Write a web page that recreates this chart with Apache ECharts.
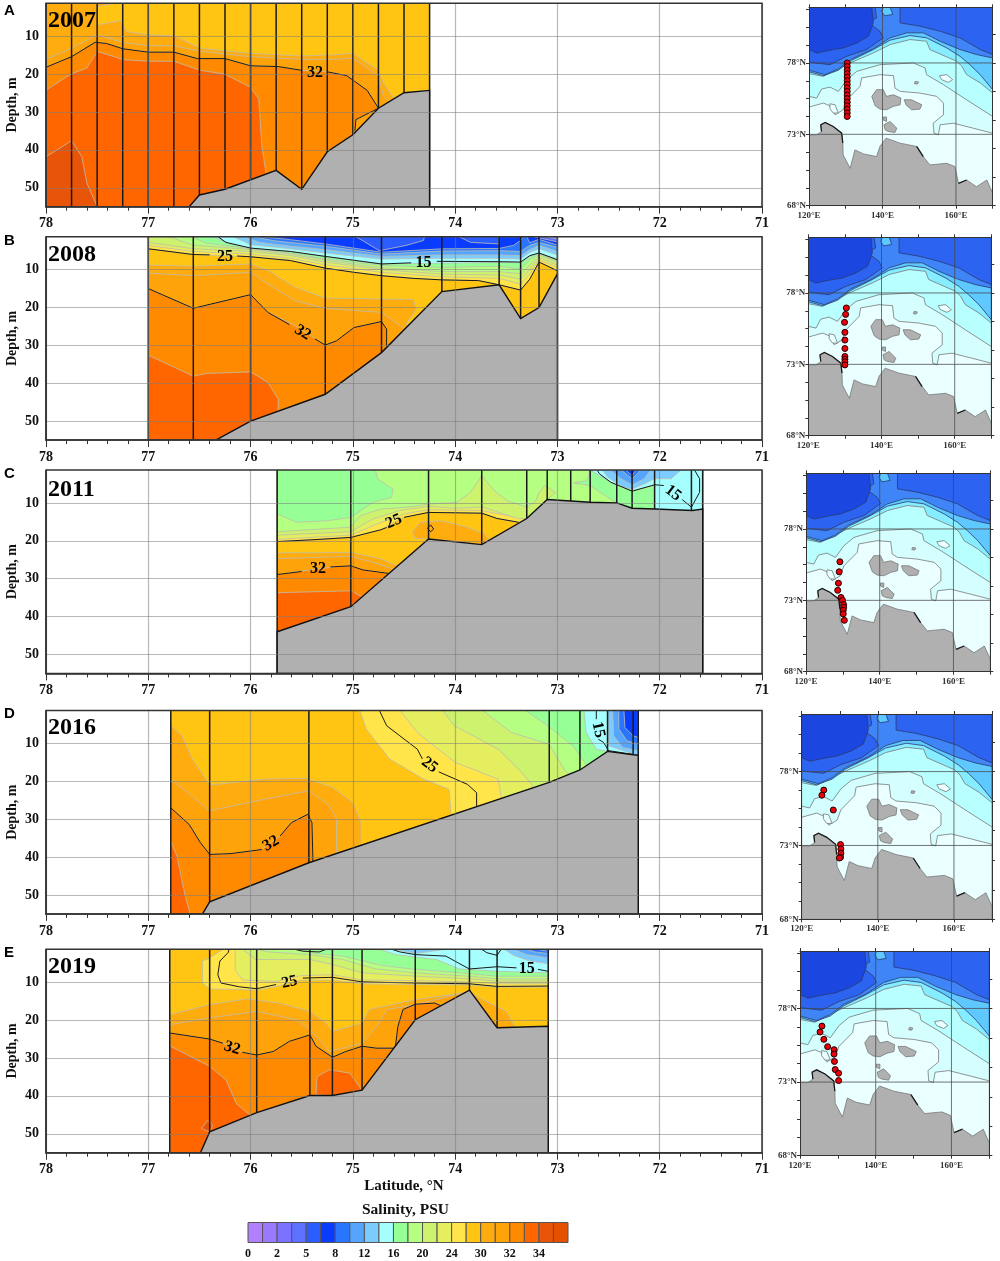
<!DOCTYPE html>
<html>
<head>
<meta charset="utf-8">
<title>Salinity sections</title>
<style>
  html,body{margin:0;padding:0;background:#fff;}
  #main{width:1000px;height:1261px;}
</style>
</head>
<body>
<div id="main"></div>
<script src="https://cdn.jsdelivr.net/npm/echarts@6/dist/echarts.min.js"></script>
<script>
// salinity classes of the colour bar, low to high
var palette = ['#b080ff','#9a78ff','#7b72ff','#5e70ff','#2a5cff','#0a3cff','#2a75ff','#55a5ff','#7ccbff','#a5ffff','#96ff96','#b5ff82','#cdf26e','#e5ee5f','#ffe54a','#ffc512','#ffac0f','#ffa30a','#ff8a00','#ff6600','#e85508','#e55000'];
var legendLabels = ['0','2','5','8','12','16','20','24','30','32','34'];
var depthTicks = [10,20,30,40,50];

// 2007
var stations2007 = [78,77.75,77.5,77.25,77,76.75,76.5,76.25,76,75.75,75.5,75.25,75,74.75,74.5,74.25];
var bottom2007 = [[76.6,55],[76.5,51.9],[76.25,50.4],[75.75,45.4],[75.5,50.4],[75.25,40.5],[75,36],[74.75,29],[74.5,24.9],[74.25,24.3]];
var bands2007 = [
  [18,[[78,1.3],[74.25,1.3],[74.25,55],[78,55]]],
  [19,[[78,24.2],[77.75,19.9],[77.6,18.4],[77.5,14],[77.24,16.2],[76.98,16.6],[76.75,16.6],[76.49,19],[76.25,20],[76,23.5],[75.92,26.6],[75.89,38.9],[75.85,46],[75.8,55],[78,55]]],
  [20,[[78,41.8],[77.75,37.6],[77.65,41.8],[77.6,48.8],[77.5,54.9],[78,55]]],
  [17,[[78,18.2],[77.75,15.4],[77.52,11.6],[77.41,11.9],[77.25,13.3],[77,14.2],[76.75,14.2],[76.52,15.9],[76.25,15.9],[76,17.8],[75.73,18],[75.5,19],[75.25,19.4],[75.06,20.4],[74.86,24.3],[74.75,29],[74.97,32],[74.98,35],[74.9,40],[74.25,40],[74.25,1.3],[78,1.3]]],
  [16,[[78,16.1],[77.75,13.2],[77.5,9.6],[77.24,11.7],[76.98,12.5],[76.75,12.5],[76.49,14],[76,15.4],[75.51,16.1],[75.19,16.1],[75,15.8],[74.86,18.4],[74.75,20.6],[74.7,25.9],[74.65,27.2],[74.25,27],[74.25,1.3],[78,1.3]]],
  [15,[[77.34,1.3],[77.5,2.2],[77.5,7],[77.27,5.9],[77.21,8.8],[77.01,9.6],[76.75,9.9],[76.49,13.2],[76,14.5],[75.51,15.2],[75.19,14.9],[75,14.5],[74.86,17.1],[74.75,18.9],[74.7,22.4],[74.6,26.4],[74.5,24.9],[74.25,24.3],[74.25,1.3]]]
];
var contours2007 = [
  [[78,18.2],[77.75,15.4],[77.52,11.6],[77.41,11.9],[77.25,13.3],[77,14.2],[76.75,14.2],[76.52,15.9],[76.25,15.9],[76,17.8],[75.73,18],[75.5,19]],
  [[75.25,19.4],[75.06,20.4],[74.86,24.3],[74.75,29],[74.97,32],[74.98,35]]
];
var labels2007 = [['32',75.37,19.6,0]];

// 2008
var stations2008 = [77,76.56,76,75.27,74.72,74.13,73.57,73.36,73.18,73];
var bottom2008 = [[76.34,55],[76,50],[75.27,42.9],[74.72,31.9],[74.13,15.8],[73.57,14],[73.36,22.9],[73.18,20],[73,11.1]];
var bands2008 = [
  [18,[[77,1.3],[73,1.3],[73,55],[77,55]]],
  [19,[[77,32.6],[76.56,38.1],[76.43,37.4],[76,37],[75.83,39.8],[75.73,44.2],[75.73,55],[77,55]]],
  [17,[[77,15],[76.56,20.2],[76,16.6],[75.83,21.3],[75.57,24.8],[75.27,29.9],[75.16,28.8],[74.99,25.3],[74.72,23.7],[74.67,25.7],[74.67,31],[73,40],[73,1.3],[77,1.3]]],
  [16,[[77,10.9],[76.56,11.6],[76,10.7],[75.83,13.8],[75.57,18.2],[75.27,20.2],[74.72,21.3],[74.51,25.3],[74.3,30],[73,30],[73,1.3],[77,1.3]]],
  [15,[[77,8.8],[76.56,9.1],[76,8.5],[75.83,10.2],[75.57,14.6],[75.27,17.5],[74.41,17.9],[74.38,20.4],[74.48,24.4],[74.3,30],[73,30],[73,1.3],[77,1.3]]],
  [14,[[77,4.5],[76.56,6],[76,6.6],[75.61,7.6],[75.27,9.6],[74.99,10.7],[74.72,11.6],[74.41,12.3],[74.13,12.7],[73.77,12.9],[73.57,14],[73.36,15.4],[73.27,12.5],[73.18,8],[73,10.3],[73,1.3],[77,1.3]]],
  [13,[[77,3.6],[76.56,5.2],[76,5.9],[75.61,7],[75.27,8.7],[74.72,10.7],[74.13,11.9],[73.57,12.3],[73.36,13.8],[73.27,11.1],[73.18,7.4],[73,9.4],[73,1.3],[77,1.3]]],
  [12,[[77,2.8],[76.56,4.5],[76,5.2],[75.61,6.3],[75.27,8],[74.72,10],[74.13,11.2],[73.57,11.4],[73.36,12.5],[73.27,10],[73.18,6.8],[73,8.8],[73,1.3],[77,1.3]]],
  [11,[[76.8,1.3],[76.56,3.5],[76,4.7],[75.61,5.9],[75.27,7.5],[74.72,9.5],[74.13,10.5],[73.57,10.5],[73.36,11.1],[73.27,8.8],[73.18,6.1],[73,8.1],[73,1.3]]],
  [10,[[76.58,1.3],[76.43,3],[76,4.5],[75.61,5.6],[75.27,7.2],[74.72,8.9],[74.13,9.4],[73.57,9.1],[73.36,9.8],[73.27,7.4],[73.18,5.9],[73,7.7],[73,1.3]]],
  [9,[[76.37,1.3],[76.24,2.9],[76,4.4],[75.61,5.2],[75.27,6.6],[74.72,8.5],[74.13,8.3],[73.57,8.1],[73.36,8.2],[73.27,6.6],[73.18,5.6],[73,7.2],[73,1.3]]],
  [8,[[76.17,1.3],[76,3.4],[75.61,4.5],[75.27,5.6],[74.72,7.2],[74.13,7],[73.57,7],[73.36,7.2],[73.27,5.4],[73.18,4.5],[73,6.1],[73,1.3]]],
  [7,[[76.06,1.3],[75.91,2.8],[75.61,3.8],[75.27,4.7],[74.72,6.5],[74.13,6.1],[73.57,6.1],[73.36,6.3],[73.27,4.7],[73.18,3.6],[73,5.2],[73,1.3]]],
  [6,[[75.98,1.3],[75.76,2.4],[75.27,3.8],[74.72,5.9],[74.13,5.1],[73.57,5],[73.36,5.2],[73.27,3.6],[73.18,2.8],[73,4.1],[73,1.3]]],
  [5,[[75.87,1.3],[75.61,2.1],[75.27,3.2],[74.72,5.4],[74.13,4.5],[73.57,4.4],[73.43,3.6],[73.36,2.3],[73.33,1.3]]],
  [4,[[74.97,1.3],[74.74,5],[74.48,3.6],[74.31,2.3],[74.3,1.3]]],
  [4,[[73.96,1.3],[73.85,2.8],[73.57,3.2],[73.57,1.3]]],
  [5,[[73.3,1.3],[73.27,2.9],[73.18,2],[73,3.5],[73,1.3]]],
  [3,[[73.23,1.3],[73.18,1.6],[73,2.7],[73,1.3]]],
  [2,[[73.12,1.3],[73,1.9],[73,1.3]]]
];
var contours2008 = [
  [[77,15],[76.56,20.2],[76,16.6],[75.83,21.3],[75.62,24.5]],
  [[75.37,28.3],[75.27,29.9],[75.16,28.8],[74.99,25.3],[74.72,23.7],[74.67,25.7],[74.67,30.1]],
  [[77,4.5],[76.56,6],[76.4,6.1]],
  [[76.13,6.4],[76,6.6],[75.61,7.6],[75.27,9.6],[74.99,10.7],[74.72,11.6],[74.41,12.3],[74.13,12.7],[73.77,12.9],[73.57,14],[73.36,15.4],[73.27,12.5],[73.18,8],[73,10.3]],
  [[76.32,1.3],[76.24,2.8],[76,4.3],[75.61,5.2],[75.27,6.5],[74.72,8.5],[74.43,8.2]],
  [[74.18,7.8],[73.57,7.9],[73.36,8],[73.27,6.3],[73.18,5.6],[73,7.4]]
];
var labels2008 = [['25',76.25,6.5,0],['15',74.31,8.1,0],['32',75.49,26.6,-0.55]];

// 2011
var stations2011 = [75.74,75.02,74.26,73.74,73.3,73.1,72.87,72.68,72.42,72.27,72.05,71.69,71.58];
var bottom2011 = [[75.74,44],[75.02,37.4],[74.26,19.5],[73.74,21],[73.3,14.1],[73.1,9.1],[72.87,9.5],[72.68,9.8],[72.42,10],[72.27,11.4],[72.05,11.6],[71.68,12],[71.58,11.6]];
var bands2011 = [
  [19,[[75.74,1.3],[71.58,1.3],[71.58,55],[75.74,55]]],
  [18,[[75.74,33.7],[75.02,33.2],[74.93,34.5],[74.5,40],[71.58,40],[71.58,1.3],[75.74,1.3]]],
  [17,[[75.74,28.9],[75.42,27.7],[75.16,26.8],[75.02,26.6],[74.9,27.7],[74.65,28.6],[74.3,35],[71.58,35],[71.58,1.3],[75.74,1.3]]],
  [16,[[75.74,24.7],[75.02,24.1],[74.8,25.7],[74.6,27.5],[74.3,35],[71.58,35],[71.58,1.3],[75.74,1.3]]],
  [15,[[75.74,23.2],[75.02,23.1],[74.73,24.7],[74.57,26.6],[74.3,35],[71.58,35],[71.58,1.3],[75.74,1.3]]],
  [16,[[74.42,17.8],[74.34,15.1],[74.14,14.7],[73.88,16.4],[73.72,18.2],[73.67,19.5],[73.74,21],[73.98,20.2],[74.26,19.5],[74.39,19.4]]],
  [14,[[75.74,20.2],[75.38,19.7],[75.02,19.1],[74.73,17.1],[74.5,13.8],[74.26,12.5],[73.74,12.7],[73.59,14.1],[73.38,15.1],[73.3,14.1],[71.58,14],[71.58,1.3],[75.74,1.3]]],
  [13,[[75.74,19.6],[75.02,18.5],[74.77,15.6],[74.5,12.9],[74.26,11.8],[73.74,12],[73.32,14.2],[71.58,14],[71.58,1.3],[75.74,1.3]]],
  [12,[[75.74,18.5],[75.02,17.6],[74.8,14.2],[74.54,12],[74.26,10.9],[74,11.4],[73.73,11.1],[73.38,14.2],[73.3,14.1],[71.58,14],[71.58,1.3],[75.74,1.3]]],
  [11,[[75.74,17.6],[75.02,16.4],[74.93,13.4],[74.73,11.6],[74.47,11.1],[74.26,10.3],[73.98,9.8],[73.85,7.2],[73.74,2.8],[73.62,6.7],[73.49,9.4],[73.3,11.1],[73.21,9.4],[73.18,7.2],[73.12,5.4],[73.02,7.2],[73.1,9.1],[72.68,10.3],[71.58,14],[71.58,1.3],[75.74,1.3]]],
  [10,[[75.74,12.9],[75.55,15.1],[75.25,14.7],[75.02,13.8],[74.8,9.8],[74.62,8.5],[74.61,6.3],[74.76,3.6],[74.78,1.3],[75.74,1.3]]],
  [10,[[72.68,1.3],[72.71,4.1],[72.84,4.7],[72.68,5.4],[72.51,8.5],[72.42,10],[72.27,11.6],[72.05,11.6],[72.05,1.3]]],
  [9,[[72.68,1.3],[72.59,2.8],[72.45,5],[72.27,6.7],[72.05,5.4],[72.05,11.6],[71.86,12.5],[71.58,13],[71.58,1.3]]],
  [8,[[72.56,1.3],[72.51,3.2],[72.35,5.9],[72.27,6.3],[72.15,5],[72.05,3.6],[71.89,3.6],[71.79,1.3]]],
  [7,[[72.48,1.3],[72.38,3.6],[72.27,5.2],[72.15,3.6],[72.09,1.3]]],
  [6,[[72.38,1.3],[72.33,2.3],[72.27,3.6],[72.22,2.3],[72.19,1.3]]],
  [5,[[72.33,1.3],[72.27,2.8],[72.23,1.3]]]
];
var contours2011 = [
  [[75.74,20.2],[75.38,19.7],[75.02,19.1],[74.73,17.1],[74.67,16.5]],
  [[74.5,13.8],[74.26,12.5],[73.74,12.7],[73.59,14.1],[73.38,15.1]],
  [[75.74,28.9],[75.5,28.1]],
  [[75.22,26.9],[75.02,26.6],[74.9,27.7],[74.65,28.6]],
  [[74.27,16.7],[74.24,15.8],[74.21,16.9],[74.24,17.6],[74.27,16.7]],
  [[72.61,1.4],[72.59,2.3],[72.48,4.5],[72.27,6.9],[72.05,5.2],[71.96,5.4]],
  [[71.78,9.1],[71.69,11.1],[71.61,7.2],[71.61,3.6],[71.66,1.3]]
];
var labels2011 = [['25',74.6,14.9,0.4],['32',75.34,27.5,0],['15',71.87,7.4,-0.65]];

// 2016
var stations2016 = [76.78,76.4,75.43,73.08,72.78,72.51,72.26,72.21];
var bottom2016 = [[76.47,55],[76.4,51.8],[75.43,41.5],[73.08,20.3],[72.78,17],[72.51,12.1],[72.26,13],[72.21,13.1]];
var bands2016 = [
  [18,[[76.78,1.3],[72.21,1.3],[72.21,55],[76.78,55]]],
  [19,[[76.78,35.8],[76.72,39.8],[76.64,50.3],[76.59,55],[76.78,55]]],
  [17,[[76.78,27],[76.6,31.4],[76.49,36.2],[76.4,39.3],[76.2,39.1],[75.89,38],[75.71,34.4],[75.6,30.9],[75.44,28.7],[75.4,30.9],[75.39,41.1],[75.3,50],[72.21,50],[72.21,1.3],[76.78,1.3]]],
  [16,[[76.78,19.4],[76.4,27.8],[75.86,24.7],[75.43,22.5],[75.23,26.5],[75.16,30],[75.16,38.9],[75,50],[72.21,50],[72.21,1.3],[76.78,1.3]]],
  [15,[[76.78,5.3],[76.67,8],[76.57,14.1],[76.4,21],[75.86,19.4],[75.46,19.2],[75.2,21.6],[75,25.6],[74.92,30.9],[74.92,36.7],[74.7,50],[72.21,50],[72.21,1.3],[76.78,1.3]]],
  [14,[[74.93,1.3],[74.87,6.2],[74.64,14.1],[74.31,19.4],[74.06,22.1],[74.04,28.3],[74,32],[72.21,32],[72.21,1.3]]],
  [13,[[74.54,1.3],[74.37,7.1],[74,15],[73.58,19.4],[73.55,23.9],[73.5,32],[72.21,32],[72.21,1.3]]],
  [12,[[74.12,1.3],[74.01,5.3],[73.58,11.5],[73.38,16.8],[73.25,20.8],[73.2,32],[72.21,32],[72.21,1.3]]],
  [11,[[73.73,1.3],[73.45,7.1],[73.08,10.2],[72.92,17.4],[72.88,18.1],[72.8,32],[72.21,32],[72.21,1.3]]],
  [10,[[73.31,1.3],[73.08,5.6],[72.85,10.6],[72.72,15.5],[72.6,32],[72.21,32],[72.21,1.3]]],
  [9,[[72.74,1.3],[72.72,7.1],[72.62,11.5],[72.51,12.1],[72.21,14],[72.21,1.3]]],
  [8,[[72.51,1.3],[72.5,10.6],[72.26,12.8],[72.21,13.1],[72.21,1.3]]],
  [7,[[72.46,1.3],[72.45,8],[72.36,11.1],[72.21,11.9],[72.21,1.3]]],
  [6,[[72.4,1.3],[72.4,6.2],[72.32,9.3],[72.21,10.2],[72.21,1.3]]],
  [5,[[72.35,1.3],[72.34,5.8],[72.26,8],[72.21,8.4],[72.21,1.3]]]
];
var contours2016 = [
  [[76.78,27],[76.6,31.4],[76.49,36.2],[76.4,39.3],[76.2,39.1],[75.89,38]],
  [[75.71,34.4],[75.6,30.9],[75.44,28.7],[75.4,30.9],[75.39,41.1]],
  [[74.74,1.3],[74.67,5.3],[74.54,8],[74.37,11.5],[74.32,14.1]],
  [[74.16,17.5],[73.88,20.8],[73.79,23],[73.79,26.7]],
  [[72.62,1.3],[72.62,3.6]],
  [[72.6,8.9],[72.55,9.7],[72.5,11.9],[72.26,12.9]]
];
var labels2016 = [['32',75.8,36.4,0.55],['25',74.25,15.7,-0.65],['15',72.6,6.4,-1.35]];

// 2019
var stations2019 = [76.79,76.4,75.94,75.42,75.2,74.91,74.39,73.86,73.59,73.09];
var bottom2019 = [[76.49,55],[76.4,49.5],[75.94,44.4],[75.42,39.9],[75.2,39.9],[74.91,38.5],[74.39,19.9],[73.86,12.1],[73.59,22],[73.09,21.6]];
var bands2019 = [
  [18,[[76.79,1.3],[73.09,1.3],[73.09,55],[76.79,55]]],
  [19,[[76.79,26.8],[76.4,32.2],[76.24,35.8],[76.14,42],[76.01,45],[76.01,55],[76.79,55]]],
  [20,[[76.48,48.6],[76.42,46.5],[76.37,47.7],[76.4,49.5]]],
  [19,[[75.36,39.7],[75.35,34.9],[75.23,33.1],[75.03,34],[74.91,38.5],[75.2,39.9]]],
  [17,[[76.79,23.4],[76.4,25],[76.27,26.1],[76.08,28.5],[75.94,29.2],[75.78,28.3],[75.62,25.6],[75.42,23.9],[75.36,26.9],[75.2,29.8],[75.07,28.3],[74.91,26.9],[74.77,27.4],[74.59,27.4],[74.58,26.1],[74.56,21.7],[74.51,17.2],[74.39,15.8],[74.2,15.5],[74.14,16.2],[74,20],[73.09,30],[73.09,1.3],[76.79,1.3]]],
  [16,[[76.79,21.2],[76.4,19.4],[75.94,17.7],[75.55,19.9],[75.42,22.5],[75.23,28.3],[74.91,26.1],[74.74,20.8],[74.67,17.2],[74.39,15.9],[73.92,12.8],[73.7,30],[73.09,30],[73.09,1.3],[76.79,1.3]]],
  [15,[[76.79,18.6],[76.4,15.9],[76.04,14.4],[75.72,15.5],[75.42,17.7],[75.26,20.8],[75.2,23],[74.91,20.8],[74.84,17.2],[74.39,14.6],[73.86,12.6],[73.73,14.6],[73.5,17.7],[73.42,21.5],[73.4,30],[73.09,30],[73.09,1.3],[76.79,1.3]]],
  [14,[[76.27,1.3],[76.4,3.6],[76.47,4.4],[76.47,10.2],[76.4,11.8],[76.11,11.9],[75.94,12.1],[75.75,11.1],[75.52,9.5],[75.2,9.4],[74.91,10.4],[74.39,10.6],[73.86,10.7],[73.59,11.3],[73.09,11.3],[73.09,1.3]]],
  [13,[[76.15,1.3],[76.15,6.8],[76.08,9.4],[75.75,9.8],[75.52,8.3],[75.2,8],[74.91,9.4],[74.39,9.6],[73.86,9.9],[73.59,10.4],[73.09,10.4],[73.09,1.3]]],
  [12,[[76.08,1.3],[75.95,4],[75.42,4],[75.2,5.3],[74.91,7.5],[74.39,8.4],[73.86,9.1],[73.59,9.7],[73.09,9.7],[73.09,1.3]]],
  [11,[[75.95,1.3],[75.82,2],[75.42,2.7],[75.1,4],[74.77,6.5],[74.39,7.5],[73.86,8.4],[73.59,9.1],[73.09,9.1],[73.09,1.3]]],
  [10,[[75.57,1.3],[75.36,2.4],[75.1,3.1],[74.71,5.6],[74.39,6.6],[73.86,7.7],[73.59,8.4],[73.09,8.4],[73.09,1.3]]],
  [9,[[74.74,1.3],[74.58,2.7],[74.18,4],[73.96,6.5],[73.59,7.1],[73.09,7.5],[73.09,1.3]]],
  [8,[[74.61,1.3],[74.38,2.4],[74.09,1.3]]],
  [8,[[73.52,1.3],[73.43,2.9],[73.27,4.4],[73.09,5.1],[73.09,1.3]]],
  [7,[[73.43,1.3],[73.3,2.7],[73.09,3.6],[73.09,1.3]]],
  [6,[[73.3,1.3],[73.22,2],[73.09,2.4],[73.09,1.3]]],
  [5,[[73.19,1.3],[73.14,1.6],[73.09,1.8],[73.09,1.3]]]
];
var contours2019 = [
  [[76.79,23.4],[76.4,25],[76.27,26.1]],
  [[76.08,28.5],[75.94,29.2],[75.78,28.3],[75.62,25.6],[75.42,23.9],[75.36,26.9],[75.2,29.8],[75.07,28.3],[74.91,26.9],[74.77,27.4],[74.59,27.4],[74.58,26.1],[74.56,21.7],[74.51,17.2],[74.39,15.8],[74.2,15.5],[74.14,16.2]],
  [[76.21,1.3],[76.22,2.2],[76.3,4.4],[76.32,8],[76.29,10.2],[76.11,11.2],[75.94,11.7],[75.75,10.6]],
  [[75.49,8.9],[75.2,8.7],[74.91,9.9],[74.39,10.2],[73.86,10.4],[73.59,11.1],[73.09,11]],
  [[74.62,1.3],[74.54,2],[74.39,2.7],[74.09,3.1],[73.97,4.9],[73.86,6.5],[73.59,5.9],[73.4,6.2]],
  [[73.19,6.6],[73.09,7.1]],
  [[73.74,1.3],[73.69,2.2],[73.59,2.9],[73.55,1.3]],
  [[75.57,1.3],[75.49,1.8],[75.33,2],[75.26,1.3]]
];
var labels2019 = [['32',76.18,27.4,-0.3],['25',75.62,10,0.2],['15',73.3,6.4,0]];

// map, lon/lat, drawn from the open sea to the coast
var mapPalette = ['#eaffff','#d5ffff','#b8ffff','#86ecff','#5ec8ff','#3f85f8','#2c63f0','#1c46e0','#b0b0b0'];
var mapLayers = [
  [0,[[120,68],[170,68],[170,81.9],[120,81.9]]],
  [1,[[120,74.91],[123.9,75.19],[125.7,75],[127.1,74.37],[129.3,74.72],[130.3,75.42],[133.9,76.36],[134.3,76.95],[139.3,77.18],[143,77.11],[143.4,76.24],[144.8,76.01],[150.2,75.89],[154.8,75.66],[156.6,75.19],[156.6,74.37],[153.8,73.78],[154,73.08],[155.2,72.96],[155.7,73.67],[159.3,73.78],[164.7,73.43],[170,73.08],[170,81.9],[120,81.9]]],
  [2,[[120,75.66],[122.1,75.54],[123.4,76.17],[125.7,76.31],[128,76.01],[130.3,76.83],[133,77.41],[139.3,77.88],[148.4,78],[151.6,77.65],[152,77.18],[156.6,76.48],[162.9,75.42],[170,74.25],[170,81.9],[120,81.9]]],
  [3,[[120,77.25],[123.9,77.06],[128.4,77.65],[131.2,78],[137.5,78.7],[142.1,79.29],[147.5,79.64],[152,79.52],[152.9,78.94],[160.2,78.12],[161.6,77.77],[162.9,77.18],[166.6,76.6],[170,75.89],[170,81.9],[120,81.9]]],
  [4,[[120,77.39],[123.9,77.11],[128,77.49],[131.6,78.19],[137.5,78.94],[142.1,79.6],[147.5,79.92],[152,79.76],[157.5,79.05],[161.1,78.47],[163.8,77.88],[166.6,77.18],[170,76.13],[170,81.9],[120,81.9]]],
  [5,[[120,77.49],[124.4,77.18],[128,77.58],[131.6,78.28],[137.5,78.99],[142.1,79.76],[146.6,80.11],[151.1,80.11],[155.7,79.52],[161.1,78.94],[165.6,78.59],[170,78.35],[170,81.9],[120,81.9]]],
  [6,[[120,78.05],[125.7,77.88],[130.3,78.47],[135.7,78.94],[140.2,79.76],[139.3,80.22],[136.2,80.81],[138.4,81.16],[138,81.9],[120,81.9]]],
  [6,[[144.8,81.9],[144.8,80.81],[150.2,80.58],[155.7,80.22],[161.1,79.76],[166.6,78.94],[170,78.59],[170,81.9]]],
  [7,[[120,78.94],[122.1,78.7],[126.6,78.94],[129.3,79.05],[133,79.4],[136.2,79.87],[137.5,80.81],[137.1,81.9],[120,81.9]]],
  [4,[[140.2,81.9],[142.1,81.9],[142.8,81.4],[140.6,81.3],[139.8,81.6]]],
  [0,[[125.7,75.14],[127.1,75.07],[128,74.49],[126.6,74.49],[125.7,74.8]]],
  [0,[[155.5,77.11],[157.5,77.18],[159.1,76.83],[157.9,76.64],[156.1,76.83]]],
  [8,[[120,68],[120,72.96],[122.1,72.96],[123.4,73.2],[123.2,73.67],[124.4,73.83],[126.6,73.55],[128.9,73.08],[129.2,72.38],[129.3,71.56],[131.2,70.62],[132.5,71.91],[134.8,71.63],[138.4,71.44],[139.3,72.15],[141,72.73],[144.8,72.38],[149.3,72.15],[151.1,71.44],[152.9,70.86],[157.5,70.97],[159.7,70.74],[160.7,69.57],[162.9,69.8],[165.6,69.33],[168.4,69.8],[170,68.87],[170,68]]],
  [8,[[137.1,75.66],[138.4,76.13],[140.2,76.13],[141.1,75.66],[143,75.77],[145,75.54],[144.8,75.07],[143,74.96],[141.1,74.72],[139.3,74.77],[138,75]]],
  [8,[[145.9,75.42],[147.9,75.42],[150.7,75.07],[150.2,74.77],[147.9,74.72],[146.4,75.07]]],
  [8,[[140.4,73.67],[142.1,73.9],[143.9,73.43],[143.4,73.13],[141.6,73.2],[140.7,73.32]]],
  [8,[[140.2,74.21],[141.1,74.21],[141.1,73.9],[140.2,74]]],
  [8,[[148.9,76.71],[149.8,76.67],[149.5,76.52],[148.7,76.55]]]
];
// stretches of coast inked black on the map
var mapInkedCoast = [
  [[123.4,73.2],[123.2,73.67],[124.4,73.83],[126.6,73.55],[128.9,73.08],[129.2,72.38]],
  [[149.3,72.15],[151.1,71.44]],
  [[160.7,69.57],[162.9,69.8]]
];
var mapLatLines = [73,78];
var mapLonLines = [140,160];
var mapLatTicks = [68,69.25,70.5,71.75,73,74.25,75.5,76.75,78,79.25,80.5,81.75];
var mapRightTicks = [68,70,72,74,76,78,80];
var mapLatLabels = [68,73,78];
var mapLonLabels = [120,140,160];

var track2007 = [[130.4,78],[130.4,77.75],[130.4,77.5],[130.4,77.25],[130.4,77],[130.4,76.75],[130.4,76.5],[130.4,76.25],[130.4,76],[130.4,75.75],[130.4,75.5],[130.4,75.25],[130.4,75],[130.4,74.75],[130.4,74.5],[130.4,74.25]];
var track2008 = [[130.4,76.95],[130.2,76.5],[129.9,75.94],[130,75.24],[130,74.7],[130,74.11],[130,73.55],[130,73.36],[130,73.18],[130,72.96]];
var track2011 = [[129.2,75.7],[129,75],[128.8,74.2],[128.6,73.7],[129.5,73.2],[129.9,73],[130.2,72.7],[130.2,72.5],[130.1,72.3],[130.1,72.05],[130.4,71.6]];
var track2016 = [[125.8,76.75],[125.3,76.4],[128.3,75.4],[130.2,73.06],[130.3,72.76],[130.3,72.47],[130.2,72.2],[129.9,72.15]];
var track2019 = [[125.8,76.8],[125.3,76.4],[126.3,75.9],[127.3,75.4],[129,75.2],[129,74.9],[129.1,74.4],[129.3,73.85],[130.2,73.6],[130.2,73.1]];

var serif = '"Liberation Serif","Times New Roman",serif';

var sections = [
  {year:'2007',letter:'A',top:3.3,height:203.4,letterY:11,yearY:20,stations:stations2007,bottom:bottom2007,bands:bands2007,contours:contours2007,labels:labels2007},
  {year:'2008',letter:'B',top:236.7,height:203.4,letterY:241,yearY:254,stations:stations2008,bottom:bottom2008,bands:bands2008,contours:contours2008,labels:labels2008},
  {year:'2011',letter:'C',top:470,height:203.4,letterY:474,yearY:489,stations:stations2011,bottom:bottom2011,bands:bands2011,contours:contours2011,labels:labels2011},
  {year:'2016',letter:'D',top:710.5,height:203.4,letterY:714,yearY:727,stations:stations2016,bottom:bottom2016,bands:bands2016,contours:contours2016,labels:labels2016},
  {year:'2019',letter:'E',top:949.3,height:203.4,letterY:953,yearY:966,stations:stations2019,bottom:bottom2019,bands:bands2019,contours:contours2019,labels:labels2019}
];
var maps = [
  {left:809,right:992.7,top:7.3,bottom:205.7,track:track2007},
  {left:808.3,right:991.3,top:237.3,bottom:435.7,track:track2008},
  {left:806,right:990.3,top:473.3,bottom:671.7,track:track2011},
  {left:801.7,right:992,top:714,bottom:919.3,track:track2016},
  {left:800,right:989.3,top:951,bottom:1155.7,track:track2019}
];

var grids = [], xAxes = [], yAxes = [], series = [], graphics = [];

// one custom series per layer kind, items drawn through the axes
function layer(xi, yi, items, draw, clip){
  series.push({
    type:'custom', xAxisIndex:xi, yAxisIndex:yi, clip:clip !== false, silent:true,
    data:items.map(function(it, i){ return [i, 0]; }),
    renderItem:function(p, api){ return draw(items[p.dataIndex], api); }
  });
}
function coords(pts, api){ return pts.map(function(q){ return api.coord(q); }); }
function drawBand(b, api){
  return {type:'polygon', shape:{points:coords(b[1], api)}, style:{fill:palette[b[0]], stroke:'rgba(190,190,175,0.8)', lineWidth:1}};
}
function drawLine(width){
  return function(pts, api){
    return {type:'polyline', shape:{points:coords(pts, api)}, style:{fill:'none', stroke:'#1a1a1a', lineWidth:width}};
  };
}
function drawLabel(l, api){
  var c = api.coord([l[1], l[2]]);
  return {type:'text', x:c[0], y:c[1], rotation:l[3], style:{text:l[0], fill:'#000', font:'bold 16px ' + serif, textAlign:'center', textVerticalAlign:'middle'}};
}

sections.forEach(function(s, i){
  // outerBoundsMode none keeps the grid where it is told, labels near the canvas edge would shift it
  grids.push({left:46, right:238, top:s.top, height:s.height, outerBoundsMode:'none'});
  xAxes.push({
    gridIndex:i, type:'value', inverse:true, min:71, max:78, interval:1, z:5,
    name:i === 4 ? 'Latitude, °N' : '', nameLocation:'middle', nameGap:26,
    nameTextStyle:{fontFamily:serif, fontWeight:'bold', fontSize:15, color:'#111'},
    axisLine:{onZero:false, lineStyle:{color:'#333', width:1.5}},
    axisTick:{length:7, lineStyle:{color:'#333', width:1}},
    minorTick:{show:true, splitNumber:5, length:4, lineStyle:{color:'#333'}},
    axisLabel:{fontFamily:serif, fontWeight:'bold', fontSize:14, color:'#111', margin:10},
    splitLine:{show:true, lineStyle:{color:'rgba(125,125,125,0.55)', width:1.2}}
  });
  yAxes.push({
    gridIndex:i, type:'value', inverse:true, min:1.3, max:55, z:5,
    name:'Depth, m', nameLocation:'middle', nameGap:27, nameRotate:90, nameMoveOverlap:false,
    nameTextStyle:{fontFamily:serif, fontWeight:'bold', fontSize:14, color:'#111'},
    axisLine:{onZero:false, lineStyle:{color:'#333', width:1.5}},
    axisTick:{show:false, customValues:depthTicks},
    axisLabel:{customValues:depthTicks, fontFamily:serif, fontWeight:'bold', fontSize:14, color:'#111', margin:7},
    splitLine:{show:true, lineStyle:{color:'rgba(125,125,125,0.55)', width:1.2}}
  });

  var last = s.bottom[s.bottom.length - 1][0], first = s.stations[0];
  var ground = s.bottom.concat([[last,55],[first,55]]);
  var stationLines = s.stations.map(function(lat){ return [[lat,1.3],[lat,55]]; });
  layer(i, i, s.bands, drawBand);
  layer(i, i, stationLines, drawLine(1.5));
  layer(i, i, s.contours, drawLine(1));
  layer(i, i, [ground], function(g, api){
    return {type:'polygon', shape:{points:coords(g, api)}, style:{fill:'#b0b0b0', stroke:'#111', lineWidth:1.4}};
  });
  layer(i, i, s.labels, drawLabel);
  // frame goes round the whole panel
  layer(i, i, [[[78,1.3],[71,1.3],[71,55],[78,55],[78,1.3]]], function(f, api){
    return {type:'polyline', z2:50, shape:{points:coords(f, api)}, style:{fill:'none', stroke:'#333', lineWidth:1.5}};
  }, false);
  series[series.length - 1].z = 6;

  graphics.push({type:'text', left:4, top:s.letterY - 8, z:20, style:{text:s.letter, fill:'#000', font:'bold 15px "Liberation Sans",Arial,sans-serif'}});
  graphics.push({type:'text', left:48, top:s.yearY - 11, z:20, style:{text:s.year, fill:'#000', font:'bold 24px ' + serif}});
});

maps.forEach(function(m, i){
  var g = grids.length;
  grids.push({left:m.left, width:m.right - m.left, top:m.top, height:m.bottom - m.top, outerBoundsMode:'none'});
  var xb = xAxes.length, yl = yAxes.length;
  var tickFont = {fontFamily:serif, fontWeight:'bold', fontSize:9, color:'#333'};
  xAxes.push({gridIndex:g, type:'value', min:120, max:170, interval:10, position:'bottom', z:5,
    axisLine:{onZero:false, lineStyle:{color:'#333'}}, axisTick:{length:3, lineStyle:{color:'#333'}},
    axisLabel:Object.assign({customValues:mapLonLabels, margin:5, formatter:function(v){ return v + '°E'; }}, tickFont),
    splitLine:{show:false}});
  xAxes.push({gridIndex:g, type:'value', min:120, max:170, interval:10, position:'top', z:5,
    axisLine:{onZero:false, lineStyle:{color:'#333'}}, axisTick:{length:3, lineStyle:{color:'#333'}},
    axisLabel:{show:false}, splitLine:{show:false}});
  yAxes.push({gridIndex:g, type:'value', min:68, max:81.9, position:'left', z:5,
    axisLine:{onZero:false, lineStyle:{color:'#333'}},
    axisTick:{length:3, customValues:mapLatTicks, lineStyle:{color:'#333'}},
    axisLabel:Object.assign({customValues:mapLatLabels, margin:3, formatter:function(v){ return v + '°N'; }}, tickFont),
    splitLine:{show:false}});
  yAxes.push({gridIndex:g, type:'value', min:68, max:81.9, position:'right', z:5,
    axisLine:{onZero:false, lineStyle:{color:'#333'}},
    axisTick:{length:3, customValues:mapRightTicks, lineStyle:{color:'#333'}},
    axisLabel:{show:false}, splitLine:{show:false}});

  layer(xb, yl, mapLayers, function(b, api){
    return {type:'polygon', shape:{points:coords(b[1], api)}, style:{fill:mapPalette[b[0]], stroke:b[0] > 3 && b[0] < 8 ? '#2a3a70' : '#777', lineWidth:0.8}};
  });
  layer(xb, yl, mapInkedCoast, drawLine(1.3));
  var lines = mapLatLines.map(function(v){ return [[120,v],[170,v]]; }).concat(mapLonLines.map(function(v){ return [[v,68],[v,81.9]]; }));
  layer(xb, yl, lines, function(l, api){
    return {type:'polyline', shape:{points:coords(l, api)}, style:{fill:'none', stroke:'rgba(70,70,70,0.75)', lineWidth:1}};
  });
  series.push({type:'scatter', xAxisIndex:xb, yAxisIndex:yl, symbolSize:6, silent:true, z:4, data:m.track,
    itemStyle:{color:'#e8000a', borderColor:'#200', borderWidth:1, opacity:1}});
});

// colour bar
var lg = grids.length;
grids.push({left:248, width:320, top:1222.5, height:20, outerBoundsMode:'none'});
xAxes.push({gridIndex:lg, type:'value', min:0, max:22, interval:2,
  axisLine:{show:false}, axisTick:{show:false}, splitLine:{show:false},
  axisLabel:{showMaxLabel:false, margin:5, fontFamily:serif, fontWeight:'bold', fontSize:12, color:'#111',
    formatter:function(v){ return legendLabels[v / 2]; }}});
yAxes.push({gridIndex:lg, type:'value', min:0, max:1, show:false});
layer(xAxes.length - 1, yAxes.length - 1, palette.map(function(c, i){ return i; }), function(k, api){
  var a = api.coord([k, 1]), b = api.coord([k + 1, 0]);
  return {type:'rect', shape:{x:a[0], y:a[1], width:b[0] - a[0], height:b[1] - a[1]}, style:{fill:palette[k], stroke:'#555', lineWidth:1}};
}, false);
graphics.push({type:'text', left:362, top:1202, z:20, style:{text:'Salinity, PSU', fill:'#111', font:'bold 15.5px ' + serif}});

var myChart = echarts.init(document.getElementById('main'), null, {renderer:'canvas'});
myChart.setOption({
  animation:false,
  grid:grids,
  xAxis:xAxes,
  yAxis:yAxes,
  graphic:{elements:graphics},
  series:series
});
</script>
</body>
</html>
